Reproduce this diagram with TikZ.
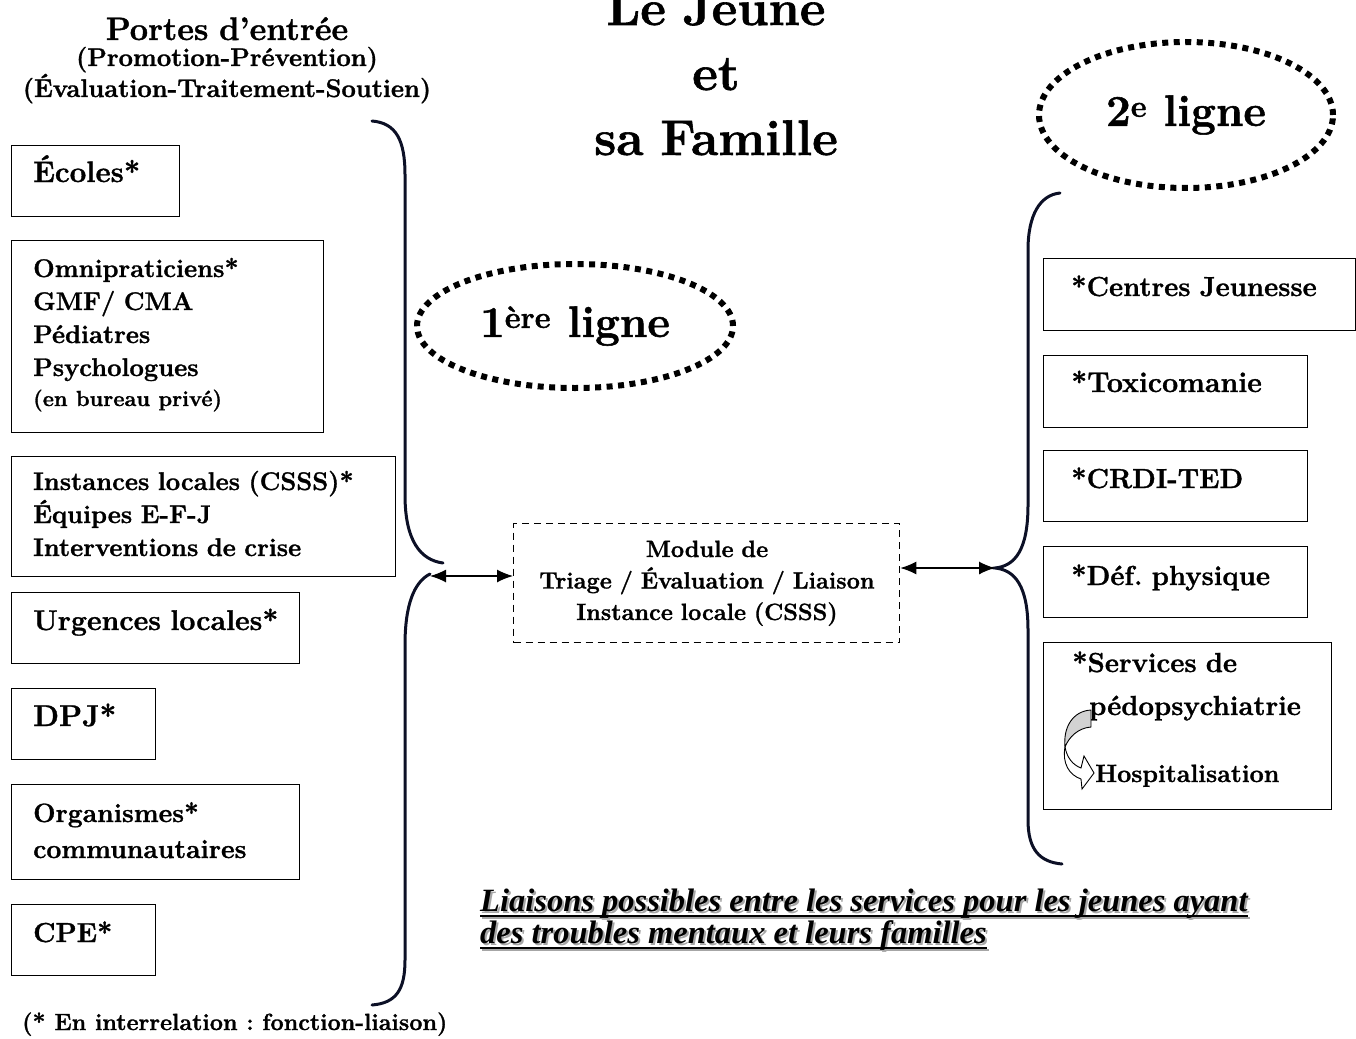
\documentclass[tikz,border=0pt]{standalone}
\usepackage{fontspec}
\setmainfont{Latin Modern Roman}[BoldFeatures={FakeBold=1.2}]
\newfontfamily\capfont{Liberation Serif}
\usetikzlibrary{arrows.meta,shapes.geometric}
\definecolor{navy}{RGB}{12,16,38}
\frenchspacing
\begin{document}
\begin{tikzpicture}[x=1pt,y=-1pt,
  box/.style={draw, line width=1.4pt, anchor=north west, inner sep=0pt},
  txt/.style={anchor=base west, inner sep=0pt, text width=360pt, align=left,
              font=\bfseries\fontsize{27.5}{33}\selectfont},
  small/.style={font=\bfseries\fontsize{25.5}{33}\selectfont},
  ctr/.style={anchor=base, inner sep=0pt, text width=500pt, align=center},
  ell/.style={ellipse, draw, line width=6pt, dash pattern=on 6pt off 5.5pt,
              inner sep=0pt, font=\bfseries\fontsize{44}{50}\selectfont},
  brace/.style={draw=navy, line width=3pt, line cap=round},
  dbl/.style={{Latex[length=16pt,width=13pt]}-{Latex[length=16pt,width=13pt]}, line width=1.3pt},
  captext/.style={anchor=base west, inner sep=0pt, font=\capfont\bfseries\itshape\fontsize{32.5}{33}\selectfont}
]
\useasboundingbox (0,0) rectangle (1356,1038);

% titles
\node[ctr, font=\bfseries\fontsize{50}{65}\selectfont] (title) at (716,25) {Le Jeune\\et\\sa Famille};
\node[ctr, font=\bfseries\fontsize{32.5}{31}\selectfont] (portes) at (227,40) {Portes d’entrée};
\node[ctr, font=\bfseries\fontsize{25.5}{31}\selectfont] (portes2) at (227,66) {(Promotion-Prévention)\\(Évaluation-Traitement-Soutien)};

% left boxes
\node[box, minimum width=168pt, minimum height=71pt] (ecoles) at (11,145) {};
\node[txt, font=\bfseries\fontsize{29.5}{33}\selectfont] (ecoles-t) at (33,182) {Écoles*};

\node[box, minimum width=312pt, minimum height=192pt] (omni) at (11,240) {};
\node[txt, font=\bfseries\fontsize{25.5}{33}\selectfont] (omni-t) at (33,277) {Omnipraticiens*\\GMF/ CMA\\Pédiatres\\Psychologues\\[-3pt]{\fontsize{21.8}{33}\selectfont(en bureau privé)}};

\node[box, minimum width=384pt, minimum height=120pt] (inst) at (11,456) {};
\node[txt, small] (inst-t) at (33,490) {Instances locales (CSSS)*\\Équipes E-F-J\\Interventions de crise};

\node[box, minimum width=288pt, minimum height=71pt] (urg) at (11,592) {};
\node[txt, font=\bfseries\fontsize{28.5}{33}\selectfont] (urg-t) at (33,630) {Urgences locales*};

\node[box, minimum width=144pt, minimum height=71pt] (dpj) at (11,688) {};
\node[txt, font=\bfseries\fontsize{30}{33}\selectfont] (dpj-t) at (33,726) {DPJ*};

\node[box, minimum width=288pt, minimum height=95pt] (org) at (11,784) {};
\node[txt, font=\bfseries\fontsize{26.5}{36}\selectfont] (org-t) at (33,822) {Organismes*\\communautaires};

\node[box, minimum width=144pt, minimum height=71pt] (cpe) at (11,904) {};
\node[txt] (cpe-t) at (33,942) {CPE*};

% footnote
\node[anchor=base west, inner sep=0pt, font=\bfseries\fontsize{23.4}{26}\selectfont] (foot) at (22,1030) {(* En interrelation : fonction-liaison)};

% ellipses
\node[ell, minimum width=316pt, minimum height=124pt] (first) at (575,326) {1\textsuperscript{ère} ligne};
\node[ell, minimum width=294pt, minimum height=146pt] (second) at (1186,115) {2\textsuperscript{e} ligne};

% module
\node[draw, line width=1.3pt, dash pattern=on 7pt off 5pt, anchor=north west, inner sep=0pt,
      minimum width=386pt, minimum height=119pt] (module) at (513,523) {};
\node[ctr, font=\bfseries\fontsize{23.5}{31.5}\selectfont] (module-t) at (707,557) {Module de\\Triage / Évaluation / Liaison\\Instance locale (CSSS)};

% right boxes
\node[box, minimum width=312pt, minimum height=72pt] (cj) at (1043,258) {};
\node[txt] (cj-t) at (1071,296) {*Centres Jeunesse};
\node[box, minimum width=264pt, minimum height=72pt] (toxi) at (1043,355) {};
\node[txt, font=\bfseries\fontsize{28.5}{33}\selectfont] (toxi-t) at (1071,392) {*Toxicomanie};
\node[box, minimum width=264pt, minimum height=71pt] (crdi) at (1043,450) {};
\node[txt] (crdi-t) at (1071,488) {*CRDI-TED};
\node[box, minimum width=264pt, minimum height=71pt] (def) at (1043,546) {};
\node[txt] (def-t) at (1071,585) {*Déf. physique};
\node[box, minimum width=288pt, minimum height=167pt] (pedo) at (1043,642) {};
\node[txt] (pedo-t1) at (1072,672) {*Services de};
\node[txt] (pedo-t2) at (1089,715) {pédopsychiatrie};
\node[txt, font=\bfseries\fontsize{25}{33}\selectfont] (pedo-t3) at (1095,782) {Hospitalisation};

% curved arrow inside pedo box
\draw[line width=0.9pt, fill=gray!35] (1091,710) .. controls (1073,711) and (1063,727) .. (1065,747)
   .. controls (1069,737) and (1078,728) .. (1091,727) -- cycle;
\draw[line width=0.9pt, fill=white] (1065,747) .. controls (1067,758) and (1073,765) .. (1081,768)
   -- (1084,756) -- (1094,773) -- (1082,789) -- (1081,779)
   .. controls (1069,775) and (1062,763) .. (1065,747) -- cycle;

% left brace
\coordinate (ltip) at (443,563);
\coordinate (lstart) at (430,574);
\draw[brace] (372,121) .. controls (396,123) and (405,140) .. (405,175) -- (405,495)
   .. controls (405,540) and (420,560) .. (ltip);
\draw[brace] (lstart) .. controls (414,582) and (405,605) .. (405,645) -- (405,960)
   .. controls (405,990) and (396,1003) .. (372,1005);

% right brace
\coordinate (rtip) at (995,568);
\draw[brace] (1060,193) .. controls (1040,195) and (1028,215) .. (1028,250) -- (1028,505)
   .. controls (1028,550) and (1015,566) .. (rtip)
   .. controls (1015,570) and (1028,586) .. (1028,630) -- (1028,820)
   .. controls (1028,850) and (1040,862) .. (1062,864);

% connectors
\draw[dbl] (lstart |- 0,576) -- (module.west |- 0,576);
\draw[dbl] (module.east |- rtip) -- (rtip);

% caption with shadow
\node[captext, text=gray!70] (cap1s) at (482,913) {Liaisons possibles entre les services pour les jeunes ayant};
\node[captext, text=gray!70] (cap2s) at (482,945) {des troubles mentaux et leurs familles};
\draw[gray!70, line width=1.8pt] ([yshift=-5pt]cap1s.base west) -- ([yshift=-5pt]cap1s.base east);
\draw[gray!70, line width=1.8pt] ([yshift=-5pt]cap2s.base west) -- ([yshift=-5pt]cap2s.base east);
\node[captext] (cap1) at (480,911) {Liaisons possibles entre les services pour les jeunes ayant};
\node[captext] (cap2) at (480,943) {des troubles mentaux et leurs familles};
\draw[line width=1.8pt] ([yshift=-5pt]cap1.base west) -- ([yshift=-5pt]cap1.base east);
\draw[line width=1.8pt] ([yshift=-5pt]cap2.base west) -- ([yshift=-5pt]cap2.base east);
\end{tikzpicture}
\end{document}
